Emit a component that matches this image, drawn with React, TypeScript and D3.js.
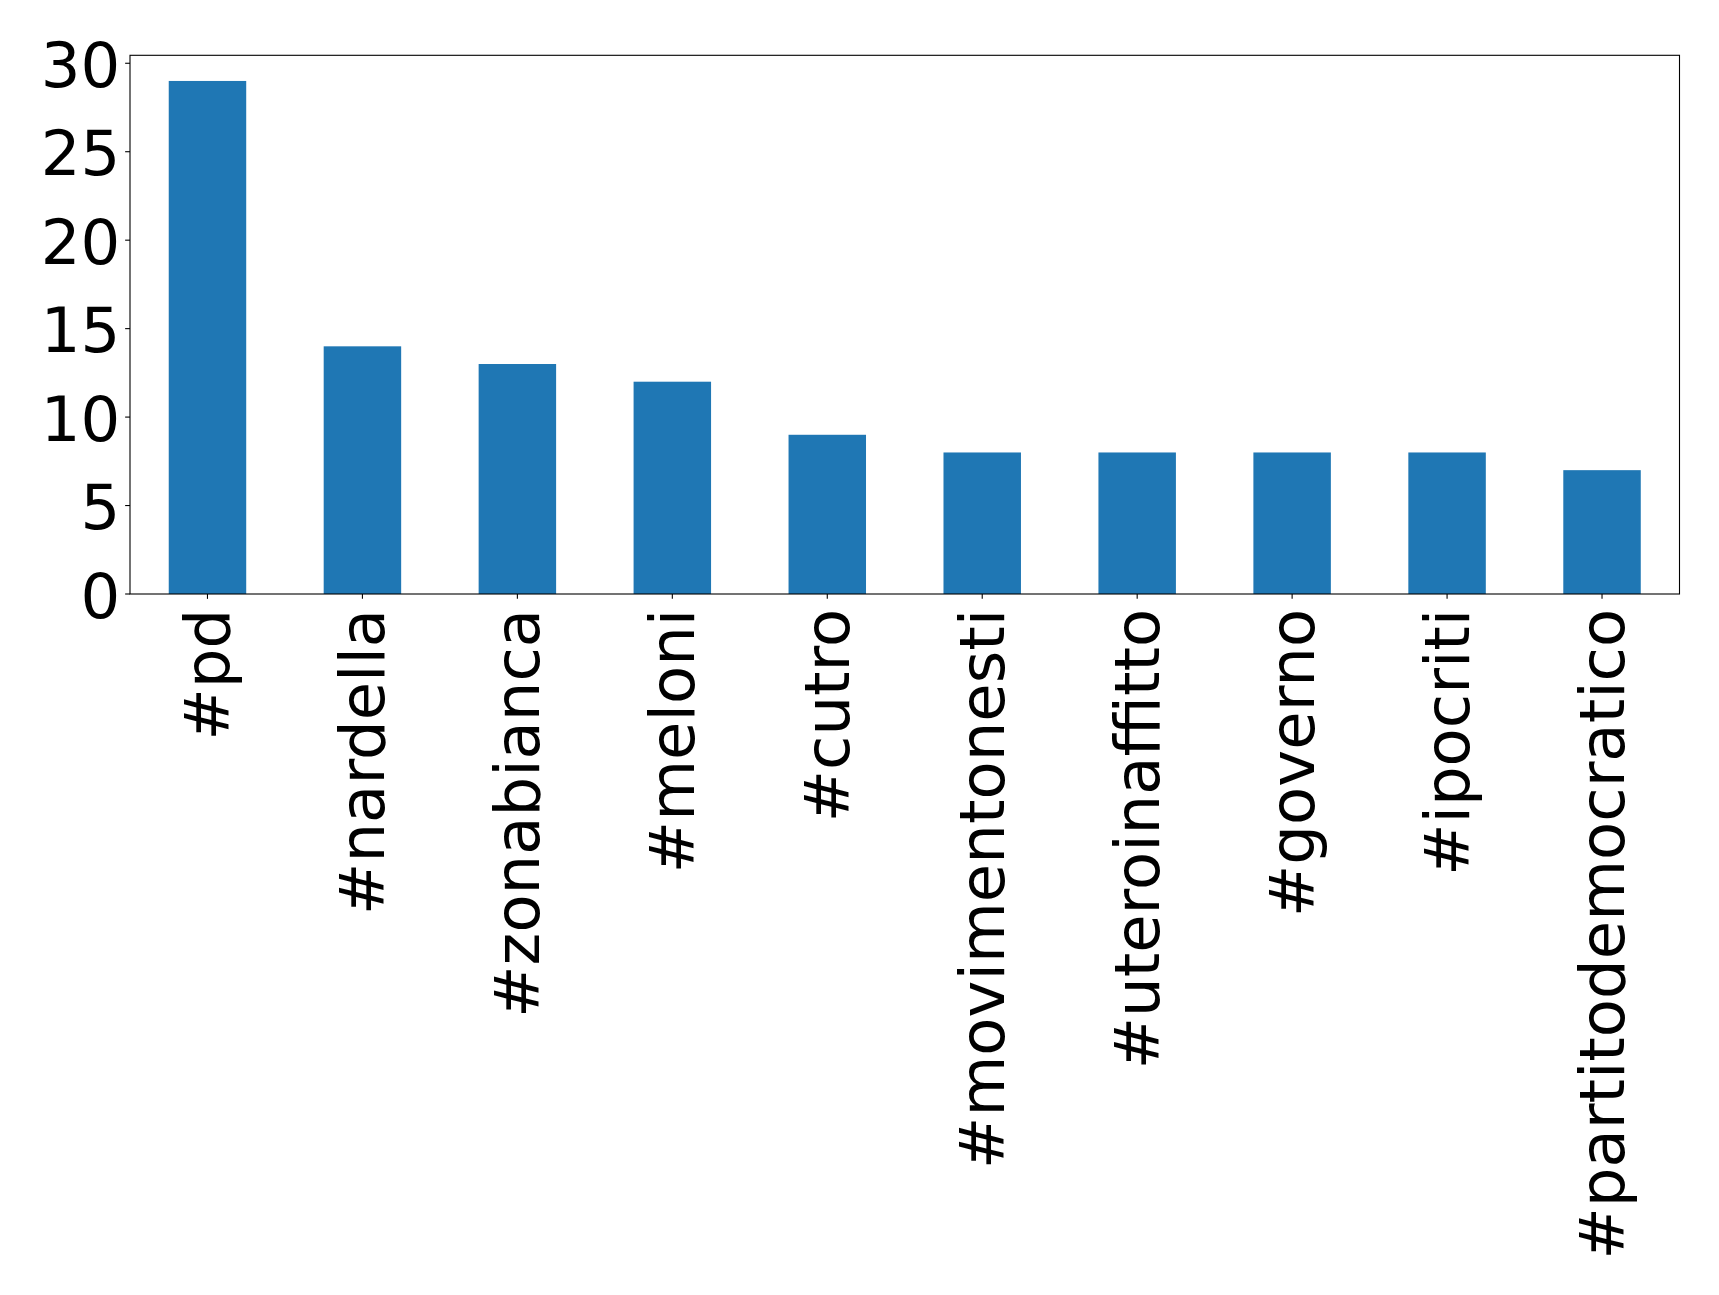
import React from "react";
import * as d3 from "d3";

const categories = ["#pd", "#nardella", "#zonabianca", "#meloni", "#cutro", "#movimentonesti", "#uteroinaffitto", "#governo", "#ipocriti", "#partitodemocratico"];
const values = [29, 14, 13, 12, 9, 8, 8, 8, 8, 7];
const yTicks = [0, 5, 10, 15, 20, 25, 30];

const W = 1719, H = 1295;
const L = 130, R = 1679.5, T = 55.3, B = 594;
const FS = 62.5;
const TICK = 4.86;

export default function App() {
  const x = d3.scaleLinear().domain([-0.5, categories.length - 0.5]).range([L, R]);
  const ymax = d3.max(values)! * 1.05;
  const y = d3.scaleLinear().domain([0, ymax]).range([B, T]);
  const bw = (x(1) - x(0)) * 0.5;
  return (
    <svg width={W} height={H} style={{ position: "absolute", left: 0, top: 0 }} fontFamily="DejaVu Sans">
      <rect x={0} y={0} width={W} height={H} fill="white" />
      {values.map((v, i) => (
        <rect key={i} x={x(i) - bw / 2} y={y(v)} width={bw} height={y(0) - y(v)} fill="#1f77b4" />
      ))}
      <rect x={L} y={T} width={R - L} height={B - T} fill="none" stroke="black" strokeWidth={1.1} />
      {yTicks.map((t) => (
        <g key={t}>
          <line x1={L - TICK} x2={L} y1={y(t)} y2={y(t)} stroke="black" strokeWidth={1.1} />
          <text x={L - TICK - 4.86} y={y(t) + 23.5} textAnchor="end" fontSize={FS} fill="black">{t}</text>
        </g>
      ))}
      {categories.map((c, i) => (
        <g key={c}>
          <line x1={x(i)} x2={x(i)} y1={B} y2={B + TICK} stroke="black" strokeWidth={1.1} />
          <text transform={`translate(${x(i) + 0.346 * FS},${B + TICK + 10}) rotate(-90)`} textAnchor="end" fontSize={FS} fill="black">{c}</text>
        </g>
      ))}
    </svg>
  );
}
